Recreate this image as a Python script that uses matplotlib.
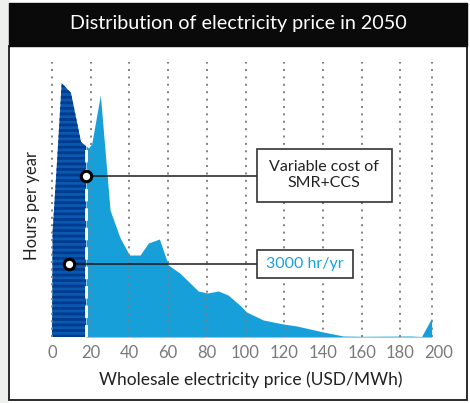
import matplotlib
matplotlib.use("Agg")
import matplotlib.pyplot as plt
from matplotlib.patches import Rectangle
import numpy as np

plt.rcParams['font.family'] = ['Lato', 'DejaVu Sans']
plt.rcParams['hatch.linewidth'] = 2.0

# ---- data (price in USD/MWh, relative hours per year) ----
price = [0, 0.3, 2.7, 5.0, 9.8, 15.0, 17.6, 18.8, 20.5, 25.0, 30.0, 35.0, 40.0,
         45.5, 49.8, 55.5, 60.1, 66.0, 75.6, 80.3, 86.0, 91.0, 97.0, 100.6,
         109.2, 119.5, 126.5, 140.2, 150.5, 161.0, 185.0, 191.0, 196.2]
hours = [0, 105, 178, 254, 244, 195, 191, 189, 193, 242, 127, 100, 82,
         82, 94, 98, 72, 64, 46, 44, 46, 42, 32, 25,
         17, 13, 11, 5, 1, 0.7, 1, 0.5, 19]
smr_cost = 17.6          # variable cost of SMR+CCS (USD/MWh)
tick_vals = list(range(0, 201, 20))
grid_vals = list(range(0, 181, 20)) + [196.2]

title = "Distribution of electricity price in 2050"
xlabel = "Wholesale electricity price (USD/MWh)"
ylabel = "Hours per year"
box1_text = "Variable cost of\nSMR+CCS"
box2_text = "3000 hr/yr"

W, H = 470, 403
fig = plt.figure(figsize=(W / 100, H / 100), dpi=100)
fig.patch.set_facecolor('white')

def fx(px): return px / W
def fy(py): return 1 - py / H

# frame decorations
fig.patches.append(Rectangle((0, 0), fx(9), 1, transform=fig.transFigure,
                             facecolor='#eef0ee', edgecolor='none', zorder=-5))
fig.patches.append(Rectangle((fx(9), fy(400)), fx(467) - fx(9), fy(46) - fy(400),
                             transform=fig.transFigure, facecolor='white',
                             edgecolor='#1a1a1a', lw=1.3, zorder=-4))
fig.patches.append(Rectangle((fx(9), fy(46)), fx(467) - fx(9), fy(3) - fy(46),
                             transform=fig.transFigure, facecolor='#0a0a0a',
                             edgecolor='#0a0a0a', lw=1, zorder=-3))
fig.text(fx(238), fy(24), title, color='white', fontsize=14.2, ha='center',
         va='center', zorder=3)

ax = fig.add_axes([fx(42), fy(337), fx(460) - fx(42), fy(62) - fy(337)])
ax.set_facecolor('none')
x0 = (42 - 52) / 1.935
x1 = (460 - 52) / 1.935
ax.set_xlim(x0, x1)
ax.set_ylim(0, 275)

p = np.array(price)
h = np.array(hours)
ax.fill_between(p, 0, h, where=p >= smr_cost, color='#169fd9', lw=0, zorder=1)
ax.fill_between(p, 0, h, where=p <= smr_cost, facecolor='#0a58b0',
                edgecolor='#003b8e', hatch='---', lw=0, zorder=2)

ax.vlines(grid_vals, 0, 275, colors='#808080', linestyles=(0, (1, 2.8)),
          lw=1.4, zorder=3)

h_cut = np.interp(smr_cost, p, h)
ax.plot([smr_cost, smr_cost], [0, h_cut], color='white', lw=2,
        dashes=(4.5, 2.5), zorder=4)

# annotations
bx_left = 105.8
m1 = (smr_cost, 161.3)
m2 = (8.8, 73.3)
ax.plot([m1[0], bx_left], [m1[1], m1[1]], color='#1a1a1a', lw=1.1, zorder=5)
ax.plot([m2[0], bx_left], [m2[1], m2[1]], color='#1a1a1a', lw=1.1, zorder=5)
for m in (m1, m2):
    ax.plot(*m, 'o', ms=7.5, mfc='white', mec='black', mew=2.2, zorder=6)
ax.add_patch(Rectangle((bx_left, 135.3), 175.6 - bx_left, 188 - 135.3,
                       facecolor='white', edgecolor='#333333', lw=1.2, zorder=5))
ax.text((bx_left + 175.6) / 2, 162, box1_text, ha='center', va='center',
        fontsize=11.5, color='#222222', linespacing=1.25, zorder=6)
ax.add_patch(Rectangle((bx_left, 58.7), 155.4 - bx_left, 87 - 58.7,
                       facecolor='white', edgecolor='#333333', lw=1.2, zorder=5))
ax.text((bx_left + 155.4) / 2, 72.9, box2_text, ha='center', va='center',
        fontsize=11.5, color='#1aa0dc', zorder=6)

ax.set_xticks(tick_vals)
ax.set_xticklabels([str(t) for t in tick_vals], fontsize=12, color='#7a7a7a')
ax.tick_params(axis='x', length=0, pad=6)
ax.set_yticks([])
for s in ax.spines.values():
    s.set_visible(False)
ax.set_xlabel(xlabel, fontsize=12.5, color='#222222', labelpad=7)
fig.text(fx(32), fy(205), ylabel, rotation=90, ha='center', va='center',
         fontsize=12, color='#222222')

fig.savefig('out.png', dpi=100)
